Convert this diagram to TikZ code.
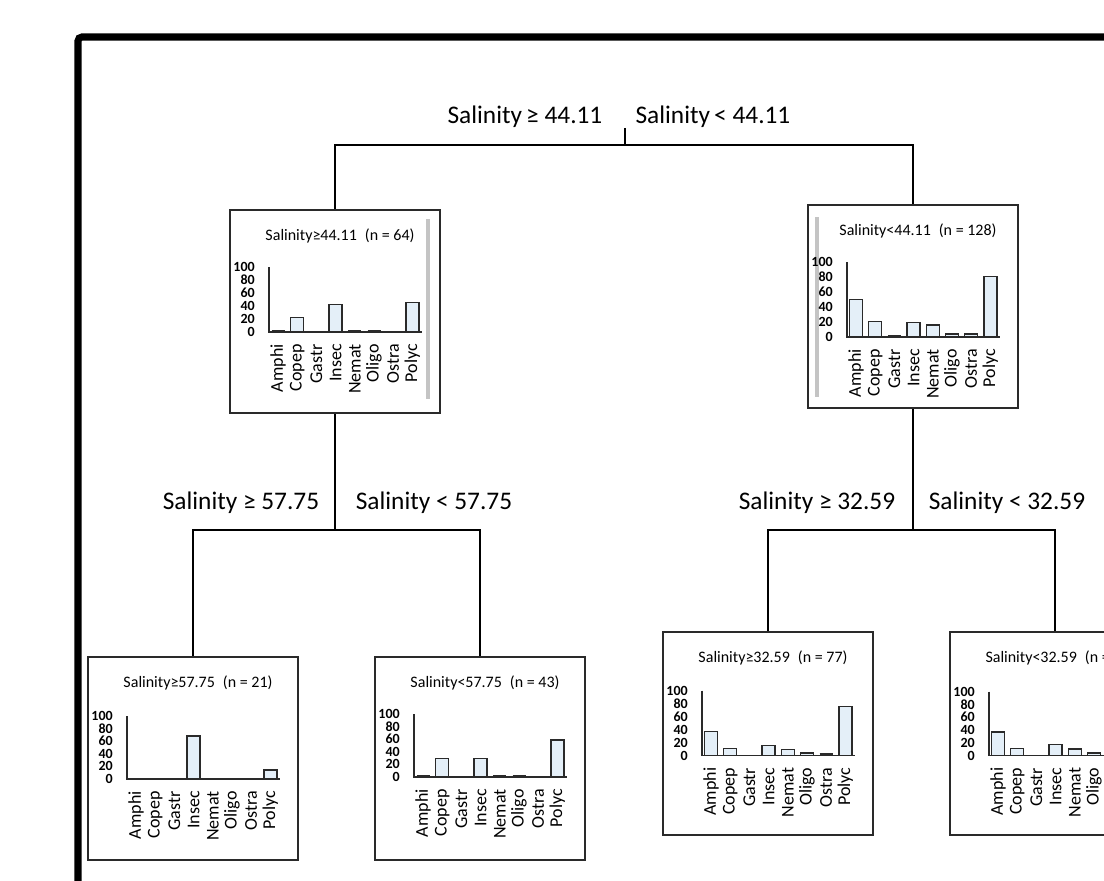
\documentclass[tikz,border=0pt]{standalone}
\usepackage{fontspec}
\setmainfont{Carlito}
\usetikzlibrary{calc}
\definecolor{barfill}{HTML}{E4EFF8}
\definecolor{edgegray}{HTML}{2A2A2A}
\definecolor{panelgray}{HTML}{C4C4C4}
\tikzset{
 px/.style={x=0.75pt,y=-0.75pt},
 panel/.style={draw=edgegray, line width=1.5pt, fill=white, inner sep=0pt, minimum width=157.5pt, minimum height=152.25pt},
 conn/.style={draw=black, line width=2.2pt},
 splitlabel/.style={font=\fontsize{19}{21}\selectfont, text=black, inner sep=0pt},
 paneltitle/.style={font=\fontsize{12}{14}\selectfont, text=black, inner sep=0pt},
 ticklabel/.style={font=\bfseries\fontsize{10.5}{11}\selectfont, anchor=east, inner sep=0pt},
 catlabel/.style={font=\fontsize{13.5}{15}\selectfont, rotate=90, anchor=east, inner sep=0pt},
 histbar/.style={draw=edgegray, fill=barfill, line width=1.1pt},
 tinybar/.style={draw=edgegray, line width=2.2pt},
 axisline/.style={draw=edgegray, line width=1.4pt},
 sidebar/.style={draw=panelgray, line width=2.5pt},
 frameline/.style={draw=black, line width=5.3pt, rounded corners=3pt},
}
% #1 panel node, #2 title, #3 base y, #4 axis height, #5 values
\newcommand{\histo}[5]{%
\begin{scope}[shift={(#1.north west)}]
 \node[paneltitle] (#1-title) at (111,27) {#2};
 \draw[axisline] (40,{#3-#4}) -- (40,#3) -- (193,#3);
 \foreach \t [count=\k from 0] in {100,80,60,40,20,0}
   \node[ticklabel] (#1-tick\k) at (26,{#3-#4+\k*#4/5}) {\t};
 \foreach \v [count=\i from 0] in {#5} {
   \ifdim\v pt>2.5pt
     \draw[histbar] ({49+19.2*\i-6.5},#3) rectangle ({49+19.2*\i+6.5},{#3-\v*#4/100});
   \else\ifdim\v pt>0pt
     \draw[tinybar] ({49+19.2*\i-6.5},{#3-1}) -- ({49+19.2*\i+6.5},{#3-1});
   \fi\fi
 }
 \foreach \c [count=\i from 0] in {Amphi,Copep,Gastr,Insec,Nemat,Oligo,Ostra,Polyc}
   \node[catlabel] (#1-cat\i) at ({49+19.2*\i},{#3+12}) {\c};
\end{scope}}
\begin{document}
\begin{tikzpicture}[px]
\useasboundingbox (0,0) rectangle (1104,881);
\clip (0,0) rectangle (1104,881);
\fill[white] (0,0) rectangle (1104,881);
\draw[frameline] (78,37) rectangle (1400,1100);

% panels
\node[panel] (b1) at (335,311.5) {};
\node[panel] (b2) at (913,306.5) {};
\node[panel] (b3) at (193,758.5) {};
\node[panel] (b4) at (480,758.5) {};
\node[panel] (b5) at (768,733) {};
\node[panel] (b6) at (1055,733) {};

% side bars
\draw[sidebar] ($(b1.north west)+(199,10)$) -- ($(b1.north west)+(199,190)$);
\draw[sidebar] ($(b2.north west)+(10,13)$) -- ($(b2.north west)+(10,193)$);

\histo{b1}{Salinity≥44.11\enspace(n = 64)}{123}{65}{2,22,0,42,2,2,0,45}
\histo{b2}{Salinity<44.11\enspace(n = 128)}{133}{75}{50,21,2,19,16,4,4,81}
\histo{b3}{Salinity≥57.75\enspace(n = 21)}{123}{63}{0,0,0,68,0,0,0,14}
\histo{b4}{Salinity<57.75\enspace(n = 43)}{121}{63}{2,29,0,29,2,2,0,59}
\histo{b5}{Salinity≥32.59\enspace(n = 77)}{125}{65}{37,11,0,15,9,4,2,75}
\histo{b6}{Salinity<32.59\enspace(n = 51)}{125}{64}{37,11,0,17,10,4,2,75}

% tree connectors
\coordinate (root) at (625,128);
\coordinate (j1) at (625,145);
\coordinate (j2) at (335,530);
\coordinate (j3) at (913,530);
\draw[conn] (root) -- (j1);
\draw[conn] (b1.north) |- (j1) -| (b2.north);
\draw[conn] (b1.south) -- (j2);
\draw[conn] (b3.north) |- (j2) -| (b4.north);
\draw[conn] (b2.south) -- (j3);
\draw[conn] (b5.north) |- (j3) -| (b6.north);

% split labels
\node[splitlabel] (l1) at (525,117) {Salinity\,≥ 44.11};
\node[splitlabel] (l2) at (713,117) {Salinity\,< 44.11};
\node[splitlabel] (l3) at (241,503) {Salinity ≥ 57.75};
\node[splitlabel] (l4) at (434,503) {Salinity < 57.75};
\node[splitlabel] (l5) at (817,503) {Salinity ≥ 32.59};
\node[splitlabel] (l6) at (1007,503) {Salinity < 32.59};
\end{tikzpicture}
\end{document}
